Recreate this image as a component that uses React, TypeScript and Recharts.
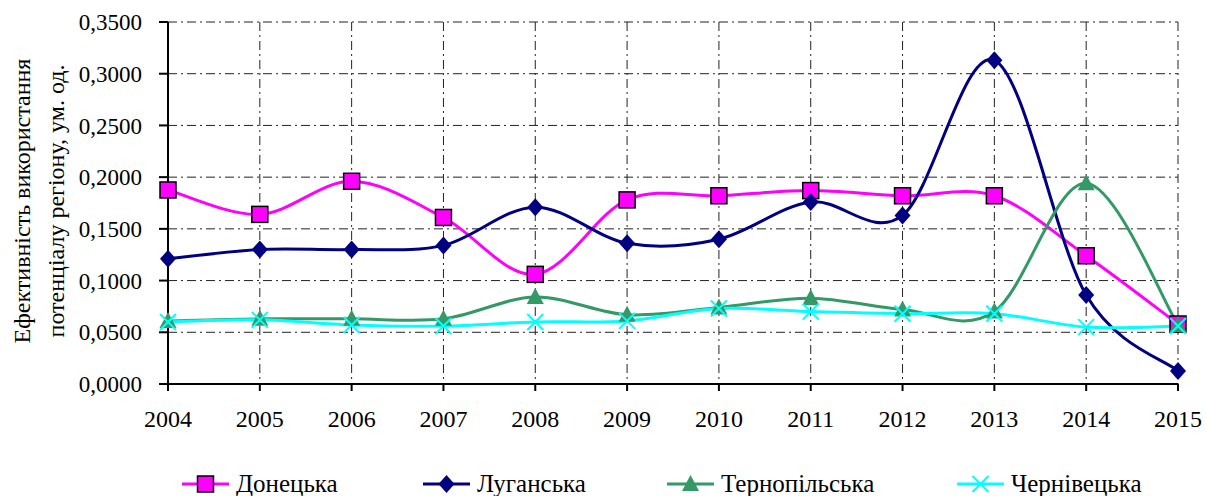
import React from "react";
import { LineChart, Line, XAxis, YAxis, CartesianGrid, Legend } from "recharts";

const years = ["2004", "2005", "2006", "2007", "2008", "2009", "2010", "2011", "2012", "2013", "2014", "2015"];
const donetska = [0.1876, 0.164, 0.196, 0.161, 0.106, 0.178, 0.182, 0.187, 0.182, 0.182, 0.124, 0.058];
const luhanska = [0.121, 0.13, 0.13, 0.134, 0.171, 0.136, 0.14, 0.176, 0.163, 0.313, 0.086, 0.0126];
const ternopilska = [0.061, 0.063, 0.063, 0.063, 0.084, 0.067, 0.074, 0.083, 0.072, 0.07, 0.194, 0.057];
const chernivetska = [0.06, 0.062, 0.057, 0.056, 0.06, 0.061, 0.073, 0.07, 0.068, 0.068, 0.055, 0.056];
const yTicks = [0, 0.05, 0.1, 0.15, 0.2, 0.25, 0.3, 0.35];

const data = years.map((year, i) => ({
  year,
  d: donetska[i],
  l: luhanska[i],
  t: ternopilska[i],
  c: chernivetska[i],
}));

const FONT = "Liberation Serif, Times New Roman, DejaVu Serif, serif";

// Excel-like smoothed line (cardinal spline)
const smoothCurve: any = (context: any) => {
  let pts: number[][] = [];
  return {
    areaStart() {},
    areaEnd() {},
    lineStart() {
      pts = [];
    },
    point(x: number, y: number) {
      pts.push([+x, +y]);
    },
    lineEnd() {
      if (!pts.length) return;
      context.moveTo(pts[0][0], pts[0][1]);
      const k = 1 / 6;
      for (let i = 0; i < pts.length - 1; i++) {
        const p0 = pts[i - 1] || pts[i];
        const p1 = pts[i];
        const p2 = pts[i + 1];
        const p3 = pts[i + 2] || p2;
        context.bezierCurveTo(
          p1[0] + (p2[0] - p0[0]) * k,
          p1[1] + (p2[1] - p0[1]) * k,
          p2[0] - (p3[0] - p1[0]) * k,
          p2[1] - (p3[1] - p1[1]) * k,
          p2[0],
          p2[1]
        );
      }
    },
  };
};

const Square = ({ cx, cy }: any) => (
  <rect x={cx - 8} y={cy - 8} width={16} height={16} fill="#FF00FF" stroke="#000" strokeWidth={1.5} />
);
const Diamond = ({ cx, cy }: any) => (
  <path d={`M${cx},${cy - 9}L${cx + 8},${cy}L${cx},${cy + 9}L${cx - 8},${cy}Z`} fill="#000080" />
);
const Triangle = ({ cx, cy }: any) => (
  <path d={`M${cx},${cy - 9}L${cx + 8.5},${cy + 7}L${cx - 8.5},${cy + 7}Z`} fill="#339966" />
);
const Cross = ({ cx, cy }: any) => (
  <path
    d={`M${cx - 8},${cy - 8}L${cx + 8},${cy + 8}M${cx - 8},${cy + 8}L${cx + 8},${cy - 8}`}
    stroke="#00FFFF"
    strokeWidth={2}
  />
);

const series = [
  { key: "d", name: "Донецька", color: "#FF00FF", Dot: Square, left: 182 },
  { key: "l", name: "Луганська", color: "#000080", Dot: Diamond, left: 423 },
  { key: "t", name: "Тернопільська", color: "#339966", Dot: Triangle, left: 667 },
  { key: "c", name: "Чернівецька", color: "#00FFFF", Dot: Cross, left: 957 },
];

const renderLegend = () => (
  <div style={{ position: "relative", height: 26, marginTop: 37, fontFamily: FONT, fontSize: 25, lineHeight: "26px", color: "#000" }}>
    {series.map((s) => (
      <div key={s.key} style={{ position: "absolute", left: s.left, top: 0, display: "flex", alignItems: "center" }}>
        <svg width={48} height={26}>
          <line x1={0} y1={13} x2={47} y2={13} stroke={s.color} strokeWidth={3} />
          <s.Dot cx={23.5} cy={13} />
        </svg>
        <span style={{ marginLeft: 6 }}>{s.name}</span>
      </div>
    ))}
  </div>
);

const YLabel = ({ viewBox }: any) => {
  const cy = viewBox ? viewBox.y + viewBox.height / 2 - 2 : 200;
  return (
    <g style={{ fontFamily: FONT }} fontSize={24} fill="#000">
      <text x={22} y={cy} transform={`rotate(-90, 22, ${cy})`} textAnchor="middle" dominantBaseline="central">
        Ефективність використання
      </text>
      <text x={56} y={cy} transform={`rotate(-90, 56, ${cy})`} textAnchor="middle" dominantBaseline="central">
        потенціалу регіону,  ум. од.
      </text>
    </g>
  );
};

const xTickStyle = { fill: "#000", fontSize: 24, style: { fontFamily: FONT } };
const yTickStyle = { fill: "#000", fontSize: 23, style: { fontFamily: FONT } };

export default function App() {
  return (
    <div style={{ position: "absolute", left: 0, top: 0, background: "#fff", fontFamily: FONT }}>
      <LineChart width={1207} height={496} data={data} margin={{ top: 22, right: 29, left: 0, bottom: 0 }}>
        <CartesianGrid stroke="#222" strokeDasharray="9 4 2 4" strokeWidth={1} />
        <XAxis
          dataKey="year"
          axisLine={{ stroke: "#000", strokeWidth: 2 }}
          tickLine={{ stroke: "#000", strokeWidth: 2 }}
          tickSize={7}
          tickMargin={19}
          tick={xTickStyle}
          height={50}
          interval={0}
        />
        <YAxis
          domain={[0, 0.35]}
          ticks={yTicks}
          width={168}
          axisLine={{ stroke: "#000", strokeWidth: 2 }}
          tickLine={{ stroke: "#000", strokeWidth: 2 }}
          tickSize={9}
          tickMargin={17}
          tick={yTickStyle}
          tickFormatter={(v: number) => v.toFixed(4).replace(".", ",")}
          label={<YLabel />}
          interval={0}
        />
        <Legend verticalAlign="bottom" height={62} content={renderLegend} wrapperStyle={{ bottom: 0 }} />
        {series.map((s) => (
          <Line
            key={s.key}
            dataKey={s.key}
            name={s.name}
            type={smoothCurve}
            stroke={s.color}
            strokeWidth={3}
            dot={(p: any) => <s.Dot key={`${s.key}-${p.index}`} cx={p.cx} cy={p.cy} />}
            activeDot={false}
            isAnimationActive={false}
          />
        ))}
      </LineChart>
    </div>
  );
}
